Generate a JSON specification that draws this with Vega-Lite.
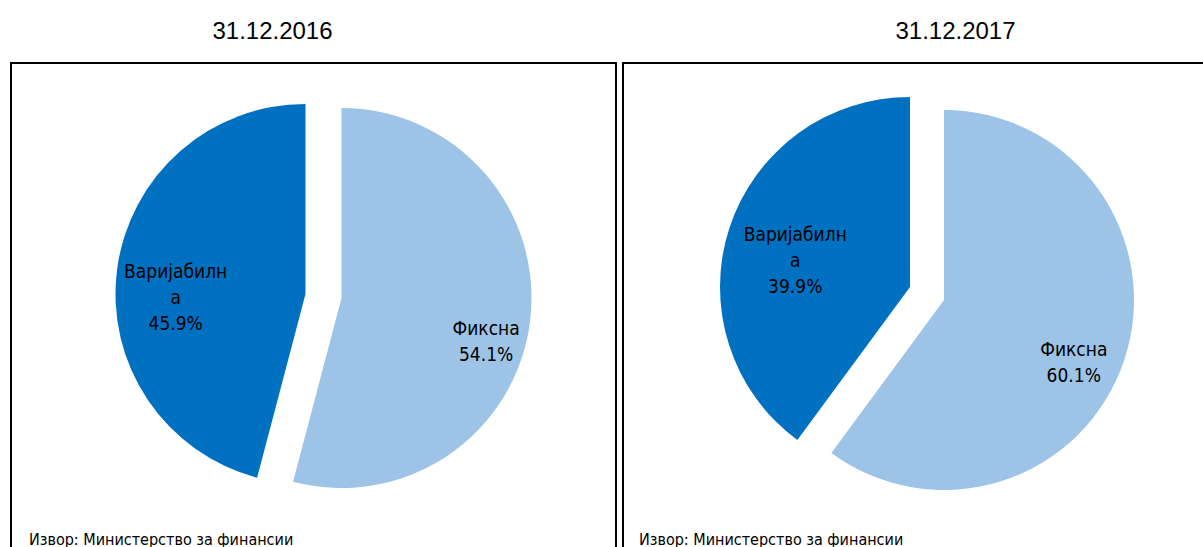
{
  "$schema": "https://vega.github.io/schema/vega-lite/v6.json",
  "padding": {"left": 10, "top": 20, "right": 0, "bottom": 0},
  "spacing": 5,
  "config": {
    "view": {"stroke": "black", "strokeWidth": 2},
    "text": {"font": "DejaVu Sans Condensed", "fontSize": 19, "color": "black", "lineBreak": "\n", "lineHeight": 26, "align": "center", "baseline": "middle"}
  },
  "hconcat": [
    {
      "title": {"text": "31.12.2016", "font": "Liberation Sans", "fontSize": 24, "fontWeight": "normal", "color": "black", "anchor": "middle", "dx": -41, "offset": 18},
      "vconcat": [
        {
          "width": 605,
          "height": 500,
          "view": {"stroke": "black", "strokeWidth": 2, "fill": "white"},
          "title": {"text": "Извор: Министерство за финансии", "orient": "bottom", "anchor": "start", "dx": 18, "offset": -31, "font": "DejaVu Sans Condensed", "fontSize": 16, "fontWeight": "normal", "color": "black"},
          "data": {"values": [
            {"date": "31.12.2016", "type": "Фиксна", "value": 54.1, "order": 1, "label": "Фиксна\n54.1%"},
            {"date": "31.12.2016", "type": "Варијабилна", "value": 45.9, "order": 2, "label": "Варијабилн\nа\n45.9%"}
          ]},
          "transform": [{"stack": "value", "groupby": ["date"], "sort": [{"field": "order", "order": "ascending"}], "as": ["v0", "v1"]}],
          "layer": [
            {
              "transform": [{"filter": "datum.type === 'Фиксна'"}],
              "mark": {"type": "arc", "radius": 190, "xOffset": 28, "yOffset": -15, "color": "#9DC3E6"},
              "encoding": {"theta": {"field": "v0", "type": "quantitative", "scale": {"domain": [0, 100]}}, "theta2": {"field": "v1"}}
            },
            {
              "transform": [{"filter": "datum.type === 'Варијабилна'"}],
              "mark": {"type": "arc", "radius": 190, "xOffset": -8, "yOffset": -19, "color": "#0070C0"},
              "encoding": {"theta": {"field": "v0", "type": "quantitative", "scale": {"domain": [0, 100]}}, "theta2": {"field": "v1"}}
            },
            {
              "mark": {"type": "text", "radius": 165, "dx": 9, "dy": -5},
              "encoding": {
                "theta": {"field": "value", "type": "quantitative", "stack": true, "scale": {"domain": [0, 100]}},
                "order": {"field": "order"},
                "text": {"field": "label"},
                "opacity": {"condition": {"test": "datum.type === 'Фиксна'", "value": 1}, "value": 0}
              }
            },
            {
              "mark": {"type": "text", "radius": 140, "dx": 1, "dy": -23},
              "encoding": {
                "theta": {"field": "value", "type": "quantitative", "stack": true, "scale": {"domain": [0, 100]}},
                "order": {"field": "order"},
                "text": {"field": "label"},
                "opacity": {"condition": {"test": "datum.type === 'Варијабилна'", "value": 1}, "value": 0}
              }
            }
          ]
        }
      ]
    },
    {
      "title": {"text": "31.12.2017", "font": "Liberation Sans", "fontSize": 24, "fontWeight": "normal", "color": "black", "anchor": "middle", "dx": 30, "offset": 18},
      "vconcat": [
        {
          "width": 605,
          "height": 500,
          "view": {"stroke": "black", "strokeWidth": 2, "fill": "white"},
          "title": {"text": "Извор: Министерство за финансии", "orient": "bottom", "anchor": "start", "dx": 16, "offset": -31, "font": "DejaVu Sans Condensed", "fontSize": 16, "fontWeight": "normal", "color": "black"},
          "data": {"values": [
            {"date": "31.12.2017", "type": "Фиксна", "value": 60.1, "order": 1, "label": "Фиксна\n60.1%"},
            {"date": "31.12.2017", "type": "Варијабилна", "value": 39.9, "order": 2, "label": "Варијабилн\nа\n39.9%"}
          ]},
          "transform": [{"stack": "value", "groupby": ["date"], "sort": [{"field": "order", "order": "ascending"}], "as": ["v0", "v1"]}],
          "layer": [
            {
              "transform": [{"filter": "datum.type === 'Фиксна'"}],
              "mark": {"type": "arc", "radius": 190, "xOffset": 18.5, "yOffset": -13, "color": "#9DC3E6"},
              "encoding": {"theta": {"field": "v0", "type": "quantitative", "scale": {"domain": [0, 100]}}, "theta2": {"field": "v1"}}
            },
            {
              "transform": [{"filter": "datum.type === 'Варијабилна'"}],
              "mark": {"type": "arc", "radius": 190, "xOffset": -15.5, "yOffset": -26, "color": "#0070C0"},
              "encoding": {"theta": {"field": "v0", "type": "quantitative", "scale": {"domain": [0, 100]}}, "theta2": {"field": "v1"}}
            },
            {
              "mark": {"type": "text", "radius": 155, "dx": 1, "dy": -11},
              "encoding": {
                "theta": {"field": "value", "type": "quantitative", "stack": true, "scale": {"domain": [0, 100]}},
                "order": {"field": "order"},
                "text": {"field": "label"},
                "opacity": {"condition": {"test": "datum.type === 'Фиксна'", "value": 1}, "value": 0}
              }
            },
            {
              "mark": {"type": "text", "radius": 135, "dx": -2, "dy": -36},
              "encoding": {
                "theta": {"field": "value", "type": "quantitative", "stack": true, "scale": {"domain": [0, 100]}},
                "order": {"field": "order"},
                "text": {"field": "label"},
                "opacity": {"condition": {"test": "datum.type === 'Варијабилна'", "value": 1}, "value": 0}
              }
            }
          ]
        }
      ]
    }
  ]
}
